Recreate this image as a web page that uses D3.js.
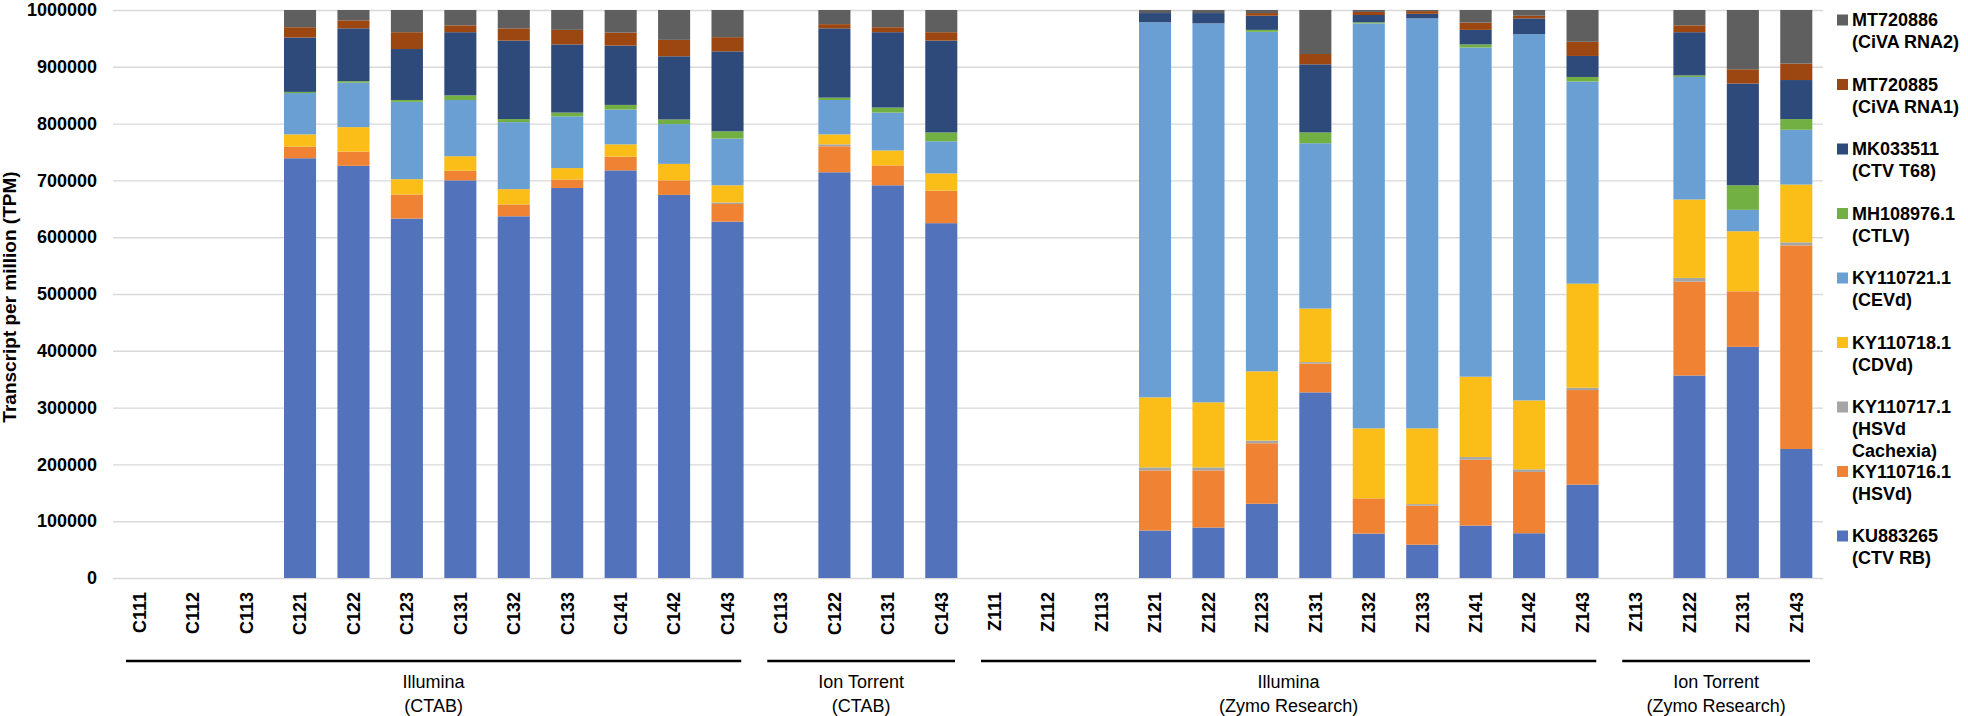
<!DOCTYPE html>
<html>
<head>
<meta charset="utf-8">
<script src="https://cdn.jsdelivr.net/npm/d3@7"></script>
<style>
  html, body { margin: 0; padding: 0; background: #fff; }
  svg { display: block; font-family: "Liberation Sans", Arial, sans-serif; }
</style>
</head>
<body>
<svg id="chart" width="1968" height="716"></svg>
<script>
// ---------- DATA ----------
const categories = ["C111","C112","C113","C121","C122","C123","C131","C132","C133","C141","C142","C143",
  "C113","C122","C131","C143",
  "Z111","Z112","Z113","Z121","Z122","Z123","Z131","Z132","Z133","Z141","Z142","Z143",
  "Z113","Z122","Z131","Z143"];

const groupNames = [["Illumina","(CTAB)"],["Ion Torrent","(CTAB)"],["Illumina","(Zymo Research)"],["Ion Torrent","(Zymo Research)"]];
const groupSizes = [12, 4, 12, 4];

const yTicks = [0,100000,200000,300000,400000,500000,600000,700000,800000,900000,1000000];

// series, bottom to top
const KU883265 = [0,0,0,739000,725700,632800,700100,636800,686700,717700,674500,627400,
  0,714300,691400,624700,
  0,0,0,83600,88900,130700,326800,78200,58600,92300,78800,164400,
  0,356500,407000,227100];
const KY110716 = [0,0,0,20400,25000,42400,16900,20900,14800,24200,25600,31000,
  0,45800,35000,57200,
  0,0,0,105800,100500,106500,50600,62000,68800,115900,107900,166500,
  0,165100,97700,358500];
const KY110717 = [0,0,0,0,0,0,0,0,0,0,0,2700,
  0,3400,0,0,
  0,0,0,5300,5300,4700,2700,0,2700,4700,4700,4000,
  0,6700,0,5400];
const KY110718 = [0,0,0,21600,43100,27000,25600,26900,20200,21600,29000,30300,
  0,17500,26300,30400,
  0,0,0,123400,114600,122000,94300,123300,133400,141500,121300,183300,
  0,138100,105800,101700];
const KY110721 = [0,0,0,72800,78200,136100,99000,118000,91000,61300,70100,82200,
  0,60600,66700,56600,
  0,0,0,660300,667100,597700,291100,712900,721700,579600,644800,355800,
  0,215700,37700,96400];
const MH108976 = [0,0,0,2000,2700,3300,8100,5400,6700,8100,8100,12800,
  0,4100,8800,15500,
  0,0,0,0,0,3400,18900,2000,0,5400,0,8100,
  0,2700,43200,18900];
const MK033511 = [0,0,0,95700,93000,89700,111200,138100,120000,104400,111200,140800,
  0,122000,132700,161700,
  0,0,0,16200,18200,24900,119900,12800,8100,25600,27700,37000,
  0,76100,179200,68700];
const MT720885 = [0,0,0,18200,14100,29600,12100,21600,25600,22900,28900,25000,
  0,7400,8800,14800,
  0,0,0,0,0,4700,18200,5400,4700,12800,4700,25000,
  0,12100,25000,29000];
const MT720886 = [0,0,0,30300,18200,39100,27000,32300,35000,39800,52600,47800,
  0,24900,30300,39100,
  0,0,0,5400,5400,5400,77500,3400,2000,22200,10100,55900,
  0,27000,104400,94300];

const seriesKeys = ["KU883265","KY110716.1","KY110717.1","KY110718.1","KY110721.1","MH108976.1","MK033511","MT720885","MT720886"];
const seriesValues = [KU883265, KY110716, KY110717, KY110718, KY110721, MH108976, MK033511, MT720885, MT720886];
const seriesLabels = [["KU883265","(CTV RB)"],["KY110716.1","(HSVd)"],["KY110717.1","(HSVd","Cachexia)"],
  ["KY110718.1","(CDVd)"],["KY110721.1","(CEVd)"],["MH108976.1","(CTLV)"],["MK033511","(CTV T68)"],
  ["MT720885","(CiVA RNA1)"],["MT720886","(CiVA RNA2)"]];
const seriesColors = ["#5273BC","#EF8233","#A5A5A5","#FBBD18","#6A9FD3","#72B043","#2D4A7A","#9C4711","#5F5F5F"];

// ---------- LAYOUT ----------
(function draw() {
const svg = d3.select("#chart");
svg.append("rect").attr("width",1968).attr("height",716).attr("fill","#fff");

const plotLeft = 113, plotRight = 1823, plotTop = 10, plotBottom = 578;

const x = d3.scaleBand().domain(d3.range(categories.length)).range([plotLeft, plotRight])
  .paddingInner(0.4).paddingOuter(0.2);
const y = d3.scaleLinear().domain([0, 1000000]).range([plotBottom, plotTop]);
const color = d3.scaleOrdinal().domain(seriesKeys).range(seriesColors);

// y axis with gridlines
const yAxis = svg.append("g").attr("transform", `translate(${plotLeft},0)`)
  .call(d3.axisLeft(y).tickValues(yTicks).tickFormat(d3.format("d"))
        .tickSize(-(plotRight - plotLeft)).tickPadding(16));
yAxis.select(".domain").remove();
yAxis.selectAll(".tick line").attr("stroke", "#D9D9D9").attr("stroke-width", 1.4);
yAxis.selectAll(".tick text").attr("font-size", 18).attr("font-weight", "bold").attr("fill", "#000");

// stacked bars
const rows = categories.map((c, i) => {
  const r = { idx: i };
  seriesKeys.forEach((k, j) => r[k] = seriesValues[j][i]);
  return r;
});
const stacked = d3.stack().keys(seriesKeys)(rows);

svg.append("g").selectAll("g").data(stacked).join("g")
  .attr("fill", d => color(d.key))
  .selectAll("rect").data(d => d).join("rect")
  .attr("x", d => x(d.data.idx))
  .attr("width", x.bandwidth())
  .attr("y", d => y(d[1]))
  .attr("height", d => Math.max(0, y(d[0]) - y(d[1])));

// x axis labels
const xAxis = svg.append("g").attr("transform", `translate(0,${plotBottom})`)
  .call(d3.axisBottom(x).tickFormat(i => categories[i]).tickSize(0));
xAxis.select(".domain").remove();
xAxis.selectAll(".tick text")
  .attr("font-size", 18).attr("font-weight", "bold").attr("fill", "#000")
  .attr("transform", "rotate(-90)")
  .attr("text-anchor", "end")
  .attr("x", -14).attr("y", 0).attr("dy", "0.35em");

// group brackets
let start = 0;
const gG = svg.append("g");
groupSizes.forEach((n, gi) => {
  const x0 = x(start) - x.step() * x.paddingInner() / 2;
  const x1 = x(start + n - 1) + x.bandwidth() + x.step() * x.paddingInner() / 2;
  const inset = 13;
  gG.append("line").attr("x1", x0 + inset).attr("x2", x1 - inset)
    .attr("y1", 661).attr("y2", 661).attr("stroke", "#000").attr("stroke-width", 2.5);
  const cx = (x0 + x1) / 2;
  groupNames[gi].forEach((t, li) => {
    gG.append("text").attr("x", cx).attr("y", 688 + li * 24)
      .attr("text-anchor", "middle").attr("font-size", 18).attr("fill", "#000").text(t);
  });
  start += n;
});

// y title
svg.append("text").attr("transform", "translate(16,297) rotate(-90)")
  .attr("text-anchor", "middle").attr("font-size", 19).attr("font-weight", "bold")
  .attr("fill", "#000").text("Transcript per million (TPM)");

// legend (top = last series)
const legend = svg.append("g");
const legOrder = d3.range(seriesKeys.length).reverse();
legOrder.forEach((si, i) => {
  const cy = 20 + i * 64.5;
  legend.append("rect").attr("x", 1837).attr("y", cy - 5.5).attr("width", 11).attr("height", 11)
    .attr("fill", seriesColors[si]);
  seriesLabels[si].forEach((t, li) => {
    legend.append("text").attr("x", 1852).attr("y", cy + li * 22).attr("dy", "0.35em")
      .attr("font-size", 18).attr("font-weight", "bold").attr("fill", "#000").text(t);
  });
});
})();
</script>
</body>
</html>
